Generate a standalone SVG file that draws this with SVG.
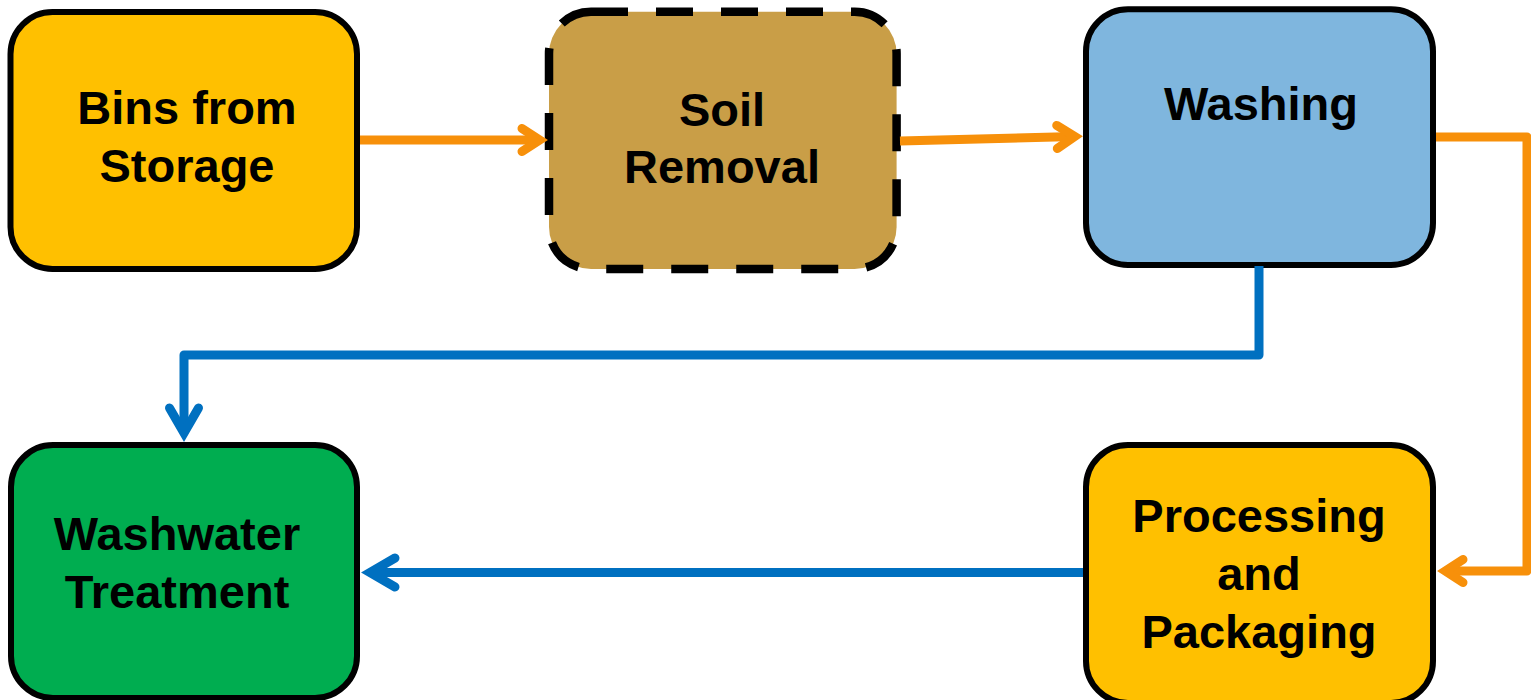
<svg xmlns="http://www.w3.org/2000/svg" width="1531" height="700" viewBox="0 0 1531 700">
  <style>
    .box { stroke: #000000; stroke-width: 6; }
    .dashed { stroke: #000000; stroke-width: 8.5; stroke-dasharray: 37 28; }
    .label { font-family: "Liberation Sans", Arial, sans-serif; font-weight: bold; font-size: 47px; fill: #000000; text-anchor: middle; }
    .orange { fill: none; stroke: #F7900A; stroke-width: 9; stroke-linejoin: round; }
    .blue { fill: none; stroke: #0070C0; stroke-width: 9; stroke-linejoin: round; }
  </style>
  <defs>
    <marker id="arrowOrange" markerUnits="userSpaceOnUse" viewBox="-30 -20 40 40" refX="0" refY="0" markerWidth="40" markerHeight="40" orient="auto" overflow="visible">
      <path d="M -17.7 -11.5 L 0 0 L -17.7 11.5" fill="none" stroke="#F7900A" stroke-width="9" stroke-linecap="round" stroke-linejoin="miter"/>
    </marker>
    <marker id="arrowBlue" markerUnits="userSpaceOnUse" viewBox="-35 -22 45 44" refX="0" refY="0" markerWidth="45" markerHeight="44" orient="auto" overflow="visible">
      <path d="M -25 -14.5 L 0 0 L -25 14.5" fill="none" stroke="#0070C0" stroke-width="9" stroke-linecap="round" stroke-linejoin="miter"/>
    </marker>
  </defs>

  <g id="node-bins">
    <rect class="box" x="10.5" y="12" width="346.5" height="257" rx="42" fill="#FFC000"/>
    <text class="label" x="187" y="124">Bins from</text>
    <text class="label" x="187" y="182">Storage</text>
  </g>

  <g id="node-soil">
    <rect class="dashed" x="549" y="11.7" width="347.6" height="257.3" rx="42" fill="#C99E47"/>
    <text class="label" x="722" y="126">Soil</text>
    <text class="label" x="722" y="183">Removal</text>
  </g>

  <g id="node-washing">
    <rect class="box" x="1086" y="9.3" width="347" height="255.7" rx="42" fill="#7FB6DE"/>
    <text class="label" x="1261" y="120">Washing</text>
  </g>

  <g id="node-washwater">
    <rect class="box" x="11" y="445" width="346" height="253" rx="42" fill="#00AD50"/>
    <text class="label" x="177" y="550">Washwater</text>
    <text class="label" x="177" y="608">Treatment</text>
  </g>

  <g id="node-processing">
    <rect class="box" x="1086" y="445" width="347" height="258" rx="42" fill="#FFC000"/>
    <text class="label" x="1259" y="532">Processing</text>
    <text class="label" x="1259" y="590">and</text>
    <text class="label" x="1259" y="648">Packaging</text>
  </g>

  <g id="connectors">
    <path class="orange" d="M 360 140 H 539.7" marker-end="url(#arrowOrange)"/>
    <path class="orange" d="M 900 141 L 1074.7 136.5" marker-end="url(#arrowOrange)"/>
    <path class="orange" d="M 1436 137 H 1527 V 571 H 1445.3" marker-end="url(#arrowOrange)"/>
    <path class="blue" d="M 1259 266 V 355 H 184 V 433" marker-end="url(#arrowBlue)"/>
    <path class="blue" d="M 1083 572.5 H 370" marker-end="url(#arrowBlue)"/>
  </g>
</svg>
